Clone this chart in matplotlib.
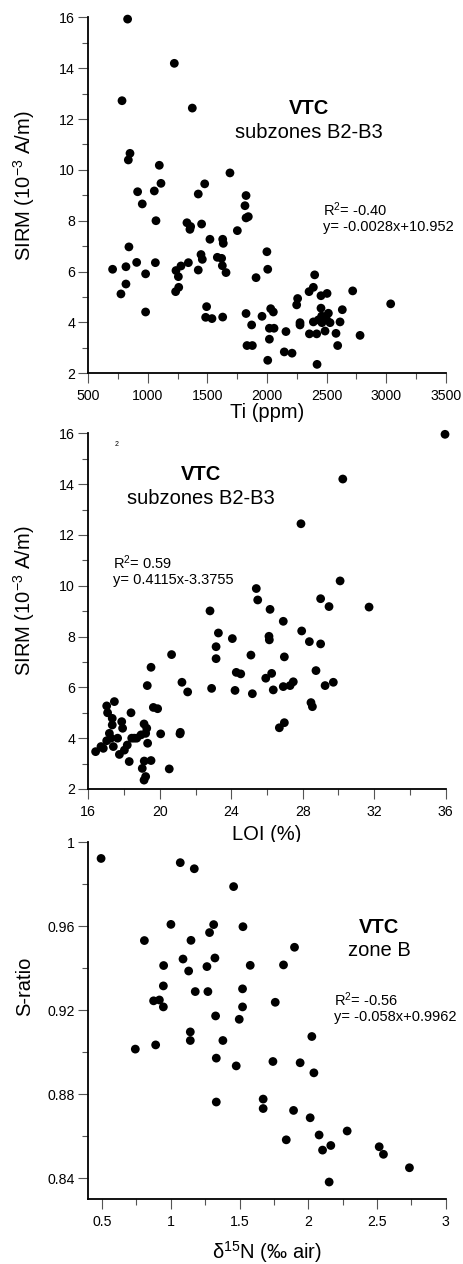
import matplotlib
matplotlib.use("Agg")
import matplotlib.pyplot as plt
from matplotlib.ticker import FixedLocator, MultipleLocator

plt.rcParams['font.family'] = ['Liberation Sans', 'DejaVu Sans']
plt.rcParams['mathtext.fontset'] = 'custom'
plt.rcParams['mathtext.rm'] = 'Liberation Sans'
plt.rcParams['mathtext.it'] = 'Liberation Sans:italic'
plt.rcParams['mathtext.bf'] = 'Liberation Sans:bold'

# --- panel 1 : SIRM vs Ti ---
ti = [830, 1222, 783, 1373, 850, 836, 1096, 1110, 1689, 914, 1054, 1477, 953,
      1423, 1824, 1815, 1068, 1328, 1359, 1353, 1451, 1843, 1824, 1751, 1521,
      1628, 1633, 841, 1999, 1446, 1457, 1583, 1619, 704, 816, 906, 1063, 1340,
      1278, 1236, 1256, 1423, 1625, 1656, 981, 2006, 1908, 816, 774, 1259, 1233,
      981, 1493, 1485, 1538, 1628, 1824, 1958, 1871, 2031, 2053, 2020, 2059,
      2020, 1832, 1877, 2006, 2159, 2145, 2210, 2249, 2257, 2277, 2277, 2353,
      2389, 2400, 2389, 2356, 2417, 2420, 2453, 2504, 2453, 2459, 2461, 2501,
      2515, 2529, 2487, 2431, 2613, 2632, 2579, 2593, 2781, 2719, 3038]
sirm_ti = [15.93, 14.19, 12.72, 12.43, 10.65, 10.39, 10.18, 9.47, 9.88, 9.14,
           9.17, 9.45, 8.66, 9.05, 8.99, 8.59, 8.00, 7.92, 7.77, 7.66, 7.87,
           8.16, 8.11, 7.61, 7.27, 7.27, 7.11, 6.97, 6.78, 6.67, 6.48, 6.56,
           6.52, 6.09, 6.19, 6.36, 6.35, 6.35, 6.22, 6.04, 5.80, 6.06, 6.23,
           5.96, 5.91, 6.09, 5.76, 5.51, 5.12, 5.38, 5.21, 4.41, 4.62, 4.20,
           4.15, 4.21, 4.35, 4.24, 3.90, 4.54, 4.41, 3.77, 3.77, 3.34, 3.09,
           3.09, 2.51, 3.64, 2.84, 2.79, 4.69, 4.94, 3.99, 3.90, 5.21, 5.38,
           5.87, 4.02, 3.55, 3.55, 2.35, 5.05, 5.14, 4.56, 4.25, 3.99, 4.10,
           4.36, 3.99, 3.66, 4.10, 4.02, 4.50, 3.57, 3.09, 3.49, 5.24, 4.73]

# --- panel 2 : SIRM vs LOI ---
loi = [35.96, 30.24, 27.90, 30.09, 25.40, 25.48, 22.81, 26.17, 29.00, 29.47,
       31.71, 26.91, 23.28, 24.06, 26.11, 26.13, 27.94, 28.37, 29.00, 23.15,
       23.15, 20.66, 25.10, 26.97, 19.51, 24.28, 24.53, 26.26, 25.93, 28.74,
       29.71, 29.25, 27.47, 27.29, 26.91, 26.35, 24.21, 22.90, 25.18, 21.24,
       21.56, 19.30, 28.46, 28.54, 26.97, 26.69, 19.64, 19.88, 21.15, 21.13,
       20.05, 20.53, 19.12, 19.21, 19.51, 19.13, 19.02, 19.12, 19.27, 19.21,
       19.32, 18.95, 18.57, 18.39, 18.29, 18.18, 18.02, 17.92, 17.87, 17.74,
       17.64, 17.46, 17.34, 17.34, 17.40, 17.03, 17.08, 17.18, 17.03, 17.27,
       16.84, 16.71, 16.41, 18.43, 18.71]
sirm_loi = [15.96, 14.20, 12.44, 10.19, 9.89, 9.44, 9.01, 9.07, 9.49, 9.18,
            9.16, 8.60, 8.14, 7.92, 8.01, 7.87, 8.22, 7.80, 7.71, 7.60, 7.13,
            7.29, 7.27, 7.20, 6.79, 6.59, 6.53, 6.55, 6.36, 6.66, 6.20, 6.07,
            6.22, 6.07, 6.03, 5.90, 5.88, 5.96, 5.75, 6.20, 5.82, 6.07, 5.40,
            5.24, 4.61, 4.41, 5.21, 5.16, 4.23, 4.17, 4.17, 2.79, 2.35, 2.49,
            3.12, 3.10, 2.81, 4.56, 4.39, 4.19, 3.80, 4.13, 4.00, 5.00, 3.08,
            3.73, 3.53, 4.39, 4.65, 3.36, 4.00, 5.44, 4.78, 4.52, 3.67, 5.27,
            5.00, 4.19, 3.90, 4.00, 3.60, 3.67, 3.47, 4.00, 4.00]

# --- panel 3 : S-ratio vs d15N ---
d15n = [0.493, 1.069, 1.171, 1.457, 1.001, 1.312, 1.525, 1.282, 0.808, 1.147,
        1.900, 1.089, 1.321, 0.948, 1.263, 1.578, 1.820, 1.130, 0.946, 1.178,
        1.270, 1.522, 0.875, 0.917, 0.946, 1.522, 1.760, 1.326, 1.498, 2.026,
        1.142, 1.142, 1.379, 0.742, 0.890, 1.331, 1.476, 1.743, 1.941, 2.041,
        1.331, 1.672, 1.672, 1.893, 2.014, 1.840, 2.079, 2.104, 2.164, 2.283,
        2.516, 2.547, 2.736, 2.152]
s_ratio = [0.9922, 0.9902, 0.9873, 0.9788, 0.9608, 0.9607, 0.9597, 0.9569,
           0.9531, 0.9532, 0.9499, 0.9443, 0.9448, 0.9412, 0.9407, 0.9413,
           0.9415, 0.9386, 0.9315, 0.9288, 0.9288, 0.9301, 0.9244, 0.9248,
           0.9215, 0.9215, 0.9237, 0.9172, 0.9156, 0.9074, 0.9096, 0.9055,
           0.9055, 0.9014, 0.9034, 0.8971, 0.8934, 0.8955, 0.8949, 0.8901,
           0.8762, 0.8776, 0.8731, 0.8722, 0.8687, 0.8582, 0.8605, 0.8533,
           0.8555, 0.8624, 0.8549, 0.8513, 0.8449, 0.8381]

ti_ticks = [500, 1000, 1500, 2000, 2500, 3000, 3500]
sirm_ticks = [2, 4, 6, 8, 10, 12, 14, 16]
loi_ticks = [16, 20, 24, 28, 32, 36]
n_ticks = [0.5, 1, 1.5, 2, 2.5, 3]
n_ticklabels = ['0.5', '1', '1.5', '2', '2.5', '3']
s_ticks = [0.84, 0.88, 0.92, 0.96, 1.0]
s_ticklabels = ['0.84', '0.88', '0.92', '0.96', '1']


def style_axes(ax):
    ax.spines['top'].set_visible(False)
    ax.spines['right'].set_visible(False)
    for s in ['left', 'bottom']:
        ax.spines[s].set_linewidth(1.3)
    ax.tick_params(which='major', direction='out', length=7.5, width=0.8,
                   color='#555555', labelsize=10.2)
    ax.tick_params(which='minor', direction='out', length=4, width=0.8,
                   color='#555555')
    ax.tick_params(axis='y', which='major', pad=2)
    ax.tick_params(axis='x', which='major', pad=4)


def place_labels(ax, xlab_off, ylab_y):
    ax.xaxis.label.set_va('center')
    ax.xaxis.set_label_coords(0.5, -xlab_off)
    ax.yaxis.label.set_va('center')
    ax.yaxis.set_label_coords(-0.179, ylab_y)


fig = plt.figure(figsize=(4.63, 12.64), dpi=100)
ax1 = fig.add_axes([0.1907, 0.7047, 0.772, 0.2816])
ax2 = fig.add_axes([0.1907, 0.3758, 0.772, 0.2814])
ax3 = fig.add_axes([0.1907, 0.0514, 0.772, 0.2824])

dot = dict(s=40, color='black', edgecolor='none', clip_on=False, zorder=3)

# panel 1
ax1.scatter(ti, sirm_ti, **dot)
ax1.set_xlim(500, 3500)
ax1.set_ylim(2, 16)
ax1.set_xticks(ti_ticks)
ax1.set_yticks(sirm_ticks)
ax1.xaxis.set_minor_locator(MultipleLocator(250))
ax1.yaxis.set_minor_locator(MultipleLocator(1))
style_axes(ax1)
ax1.set_xlabel('Ti (ppm)', fontsize=14.5)
ax1.set_ylabel('SIRM (10$^{-3}$ A/m)', fontsize=14.5)
place_labels(ax1, 39 / 356, 0.526)
ax1.text(2355, 12.42, 'VTC', fontsize=14.5, fontweight='bold', ha='center', va='center')
ax1.text(2355, 11.48, 'subzones B2-B3', fontsize=14.5, ha='center', va='center')
ax1.text(2473, 8.45, 'R$^2$= -0.40', fontsize=10.5, ha='left', va='center')
ax1.text(2473, 7.77, 'y= -0.0028x+10.952', fontsize=10.5, ha='left', va='center')

# panel 2
ax2.scatter(loi, sirm_loi, **dot)
ax2.set_xlim(16, 36)
ax2.set_ylim(2, 16)
ax2.set_xticks(loi_ticks)
ax2.set_yticks(sirm_ticks)
ax2.xaxis.set_minor_locator(MultipleLocator(2))
ax2.yaxis.set_minor_locator(MultipleLocator(1))
style_axes(ax2)
ax2.set_xlabel('LOI (%)', fontsize=14.5)
ax2.set_ylabel('SIRM (10$^{-3}$ A/m)', fontsize=14.5)
place_labels(ax2, 46 / 356, 0.528)
ax2.text(17.6, 15.55, '2', fontsize=5, ha='center', va='center')
ax2.text(22.31, 14.36, 'VTC', fontsize=14.5, fontweight='bold', ha='center', va='center')
ax2.text(22.31, 13.42, 'subzones B2-B3', fontsize=14.5, ha='center', va='center')
ax2.text(17.36, 10.91, 'R$^2$= 0.59', fontsize=10.5, ha='left', va='center')
ax2.text(17.36, 10.21, 'y= 0.4115x-3.3755', fontsize=10.5, ha='left', va='center')

# panel 3
ax3.scatter(d15n, s_ratio, **dot)
ax3.set_xlim(0.4, 3.0)
ax3.set_ylim(0.83, 1.0)
ax3.set_xticks(n_ticks)
ax3.set_xticklabels(n_ticklabels)
ax3.set_yticks(s_ticks)
ax3.set_yticklabels(s_ticklabels)
ax3.xaxis.set_minor_locator(FixedLocator([0.75, 1.25, 1.75, 2.25, 2.75]))
ax3.yaxis.set_minor_locator(FixedLocator([0.86, 0.90, 0.94, 0.98]))
style_axes(ax3)
ax3.set_xlabel('δ$^{15}$N (‰ air)', fontsize=14.5)
ax3.set_ylabel('S-ratio', fontsize=14.5)
place_labels(ax3, 53 / 357, 0.597)
ax3.text(2.516, 0.9594, 'VTC', fontsize=14.5, fontweight='bold', ha='center', va='center')
ax3.text(2.516, 0.9486, 'zone B', fontsize=14.5, ha='center', va='center')
ax3.text(2.184, 0.9247, 'R$^2$= -0.56', fontsize=10.5, ha='left', va='center')
ax3.text(2.184, 0.9169, 'y= -0.058x+0.9962', fontsize=10.5, ha='left', va='center')

fig.savefig('out.png', dpi=100)
